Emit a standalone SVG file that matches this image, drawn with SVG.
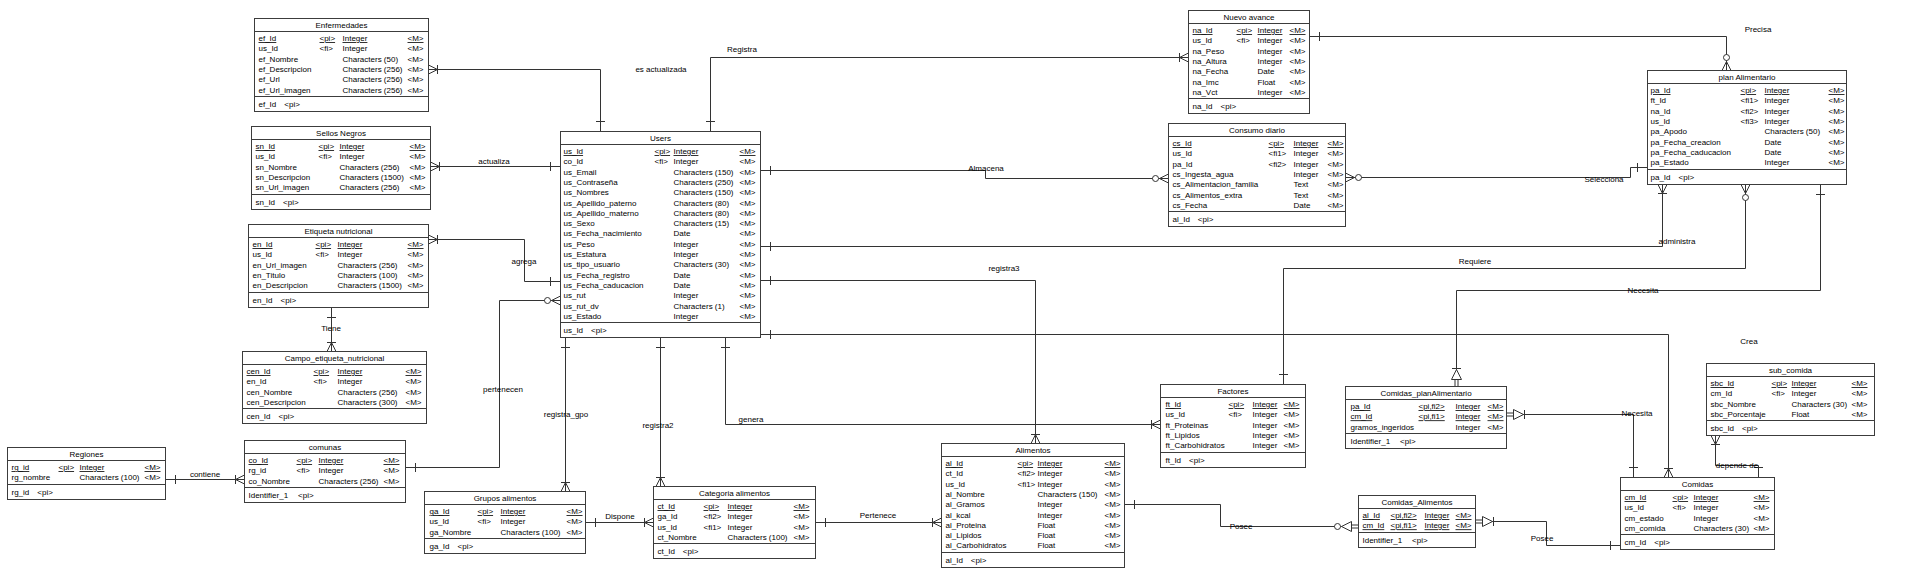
<svg xmlns="http://www.w3.org/2000/svg" width="1908" height="574" viewBox="0 0 1908 574">
<style>
.box rect{fill:#fff;stroke:#3c3c3c;stroke-width:1}
.box line{stroke:#3c3c3c;stroke-width:1}
text{font-family:"Liberation Sans",Arial,sans-serif;font-size:8px;fill:#000}
.ttl{text-anchor:middle}
.u{text-decoration:underline}
#connectors path{fill:none;stroke:#333;stroke-width:1}
.lbl{text-anchor:middle}
</style>
<defs>
<marker id="one" markerUnits="userSpaceOnUse" orient="auto-start-reverse" overflow="visible" markerWidth="1" markerHeight="1">
<path d="M-10,-4.5V4.5" stroke="#333" fill="none"/>
</marker>
<marker id="many" markerUnits="userSpaceOnUse" orient="auto-start-reverse" overflow="visible" markerWidth="1" markerHeight="1">
<path d="M0,-4.5L-9,0L0,4.5M-9,-4.5V4.5" stroke="#333" fill="none"/>
</marker>
<marker id="manyOpt" markerUnits="userSpaceOnUse" orient="auto-start-reverse" overflow="visible" markerWidth="1" markerHeight="1">
<path d="M0,-4.5L-9,0L0,4.5" stroke="#333" fill="none"/>
<circle cx="-13" cy="0" r="3" fill="#fff" stroke="#333"/>
</marker>
<marker id="identOne" markerUnits="userSpaceOnUse" orient="auto-start-reverse" overflow="visible" markerWidth="1" markerHeight="1">
<rect x="-7" y="-1" width="7" height="2" fill="#fff"/>
<path d="M0,-1.5H-7M0,1.5H-7M-18,-4.5V4.5" stroke="#333" fill="none"/>
<path d="M-7,-5L-17,0L-7,5Z" fill="#fff" stroke="#333"/>
</marker>
<marker id="identOpt" markerUnits="userSpaceOnUse" orient="auto-start-reverse" overflow="visible" markerWidth="1" markerHeight="1">
<rect x="-7" y="-1" width="7" height="2" fill="#fff"/>
<path d="M0,-1.5H-7M0,1.5H-7" stroke="#333" fill="none"/>
<path d="M-7,-5L-17,0L-7,5Z" fill="#fff" stroke="#333"/>
<circle cx="-21" cy="0" r="3" fill="#fff" stroke="#333"/>
</marker>
</defs>
<rect width="1908" height="574" fill="#fff"/>

<g id="connectors">
<path d="M600.5 131.5V69.5H428.5" marker-start="url(#one)" marker-end="url(#many)"/>
<path d="M710.5 131.5V57.5H1188.5" marker-start="url(#one)" marker-end="url(#many)"/>
<path d="M560.5 166.5H430.5" marker-start="url(#one)" marker-end="url(#many)"/>
<path d="M560.5 281.5H524.5V239.5H428.5" marker-start="url(#one)" marker-end="url(#many)"/>
<path d="M331.5 307.5V351.5" marker-start="url(#one)" marker-end="url(#many)"/>
<path d="M405.5 467.5H499.5V300.5H560.5" marker-start="url(#one)" marker-end="url(#manyOpt)"/>
<path d="M165.5 479.5H244.5" marker-start="url(#one)" marker-end="url(#many)"/>
<path d="M565.5 337.5V491.5" marker-start="url(#one)" marker-end="url(#many)"/>
<path d="M660.5 337.5V486.5" marker-start="url(#one)" marker-end="url(#many)"/>
<path d="M725.5 337.5V424.5H1160.5" marker-start="url(#one)" marker-end="url(#many)"/>
<path d="M585.5 522.5H653.5" marker-start="url(#one)" marker-end="url(#many)"/>
<path d="M815.5 522.5H941.5" marker-start="url(#one)" marker-end="url(#many)"/>
<path d="M760.5 280.5H1035.5V443.5" marker-start="url(#one)" marker-end="url(#many)"/>
<path d="M760.5 170.5H985.5V178.5H1168.5" marker-start="url(#one)" marker-end="url(#manyOpt)"/>
<path d="M1647.5 167.5H1630.5V177.5H1345.5" marker-start="url(#one)" marker-end="url(#manyOpt)"/>
<path d="M1309.5 36.5H1726.5V70.5" marker-start="url(#one)" marker-end="url(#manyOpt)"/>
<path d="M760.5 246.5H1662.5V184.5" marker-start="url(#one)" marker-end="url(#many)"/>
<path d="M1283.5 384.5V268.5H1745.5V184.5" marker-start="url(#one)" marker-end="url(#manyOpt)"/>
<path d="M1820.5 184.5V290.5H1456.5V386.5" marker-start="url(#one)" marker-end="url(#identOne)"/>
<path d="M1633.5 477.5V414.5H1506.5" marker-start="url(#one)" marker-end="url(#identOne)"/>
<path d="M760.5 334.5H1668.5V477.5" marker-start="url(#one)" marker-end="url(#many)"/>
<path d="M1124.5 504.5H1220.5V526.5H1358.5" marker-start="url(#one)" marker-end="url(#identOpt)"/>
<path d="M1620.5 545.5H1546.5V521.5H1475.5" marker-start="url(#one)" marker-end="url(#identOne)"/>
<path d="M1758.5 477.5V465.5H1715.5V435.5" marker-start="url(#one)" marker-end="url(#many)"/>
<text class="lbl" x="661" y="72">es actualizada</text>
<text class="lbl" x="742" y="52">Registra</text>
<text class="lbl" x="494" y="164">actualiza</text>
<text class="lbl" x="524" y="264">agrega</text>
<text class="lbl" x="331" y="331">Tiene</text>
<text class="lbl" x="503" y="392">pertenecen</text>
<text class="lbl" x="205" y="477">contiene</text>
<text class="lbl" x="566" y="417">registra_gpo</text>
<text class="lbl" x="658" y="428">registra2</text>
<text class="lbl" x="620" y="519">Dispone</text>
<text class="lbl" x="878" y="518">Pertenece</text>
<text class="lbl" x="1004" y="271">registra3</text>
<text class="lbl" x="751" y="422">genera</text>
<text class="lbl" x="986" y="171">Almacena</text>
<text class="lbl" x="1604" y="182">Selecciona</text>
<text class="lbl" x="1758" y="32">Precisa</text>
<text class="lbl" x="1677" y="244">administra</text>
<text class="lbl" x="1475" y="264">Requiere</text>
<text class="lbl" x="1643" y="293">Necesita</text>
<text class="lbl" x="1749" y="344">Crea</text>
<text class="lbl" x="1637" y="416">Necesita</text>
<text class="lbl" x="1241" y="529">Posee</text>
<text class="lbl" x="1542" y="541">Posee</text>
<text class="lbl" x="1737" y="468">depende de</text>
</g>

<g id="Enfermedades" class="box" transform="translate(254.5,18.5)">
<rect width="174" height="93"/><line x1="0" y1="13" x2="174" y2="13"/><line x1="0" y1="78" x2="174" y2="78"/>
<text class="ttl" x="87" y="9.5">Enfermedades</text>
<text class="u" y="22.5"><tspan x="4">ef_Id</tspan><tspan x="65">&lt;pi&gt;</tspan><tspan x="88">Integer</tspan><tspan x="153">&lt;M&gt;</tspan></text>
<text y="32.8"><tspan x="4">us_Id</tspan><tspan x="65">&lt;fi&gt;</tspan><tspan x="88">Integer</tspan><tspan x="153">&lt;M&gt;</tspan></text>
<text y="43.1"><tspan x="4">ef_Nombre</tspan><tspan x="88">Characters (50)</tspan><tspan x="153">&lt;M&gt;</tspan></text>
<text y="53.4"><tspan x="4">ef_Descripcion</tspan><tspan x="88">Characters (256)</tspan><tspan x="153">&lt;M&gt;</tspan></text>
<text y="63.7"><tspan x="4">ef_Url</tspan><tspan x="88">Characters (256)</tspan><tspan x="153">&lt;M&gt;</tspan></text>
<text y="74"><tspan x="4">ef_Url_imagen</tspan><tspan x="88">Characters (256)</tspan><tspan x="153">&lt;M&gt;</tspan></text>
<text x="4" y="88.5">ef_Id<tspan dx="8">&lt;pi&gt;</tspan></text>
</g>

<g id="SellosNegros" class="box" transform="translate(251.5,126.5)">
<rect width="179" height="83"/><line x1="0" y1="13" x2="179" y2="13"/><line x1="0" y1="68" x2="179" y2="68"/>
<text class="ttl" x="89.5" y="9.5">Sellos Negros</text>
<text class="u" y="22.5"><tspan x="4">sn_Id</tspan><tspan x="67">&lt;pi&gt;</tspan><tspan x="88">Integer</tspan><tspan x="158">&lt;M&gt;</tspan></text>
<text y="32.8"><tspan x="4">us_Id</tspan><tspan x="67">&lt;fi&gt;</tspan><tspan x="88">Integer</tspan><tspan x="158">&lt;M&gt;</tspan></text>
<text y="43.1"><tspan x="4">sn_Nombre</tspan><tspan x="88">Characters (256)</tspan><tspan x="158">&lt;M&gt;</tspan></text>
<text y="53.4"><tspan x="4">sn_Descripcion</tspan><tspan x="88">Characters (1500)</tspan><tspan x="158">&lt;M&gt;</tspan></text>
<text y="63.7"><tspan x="4">sn_Url_imagen</tspan><tspan x="88">Characters (256)</tspan><tspan x="158">&lt;M&gt;</tspan></text>
<text x="4" y="78.5">sn_Id<tspan dx="8">&lt;pi&gt;</tspan></text>
</g>

<g id="EtiquetaNutricional" class="box" transform="translate(248.5,224.5)">
<rect width="180" height="83"/><line x1="0" y1="13" x2="180" y2="13"/><line x1="0" y1="68" x2="180" y2="68"/>
<text class="ttl" x="90" y="9.5">Etiqueta nutricional</text>
<text class="u" y="22.5"><tspan x="4">en_Id</tspan><tspan x="67">&lt;pi&gt;</tspan><tspan x="89">Integer</tspan><tspan x="159">&lt;M&gt;</tspan></text>
<text y="32.8"><tspan x="4">us_Id</tspan><tspan x="67">&lt;fi&gt;</tspan><tspan x="89">Integer</tspan><tspan x="159">&lt;M&gt;</tspan></text>
<text y="43.1"><tspan x="4">en_Url_imagen</tspan><tspan x="89">Characters (256)</tspan><tspan x="159">&lt;M&gt;</tspan></text>
<text y="53.4"><tspan x="4">en_Titulo</tspan><tspan x="89">Characters (100)</tspan><tspan x="159">&lt;M&gt;</tspan></text>
<text y="63.7"><tspan x="4">en_Descripcion</tspan><tspan x="89">Characters (1500)</tspan><tspan x="159">&lt;M&gt;</tspan></text>
<text x="4" y="78.5">en_Id<tspan dx="8">&lt;pi&gt;</tspan></text>
</g>

<g id="CampoEtiquetaNutricional" class="box" transform="translate(242.5,351.5)">
<rect width="184" height="72"/><line x1="0" y1="13" x2="184" y2="13"/><line x1="0" y1="57" x2="184" y2="57"/>
<text class="ttl" x="92" y="9.5">Campo_etiqueta_nutricional</text>
<text class="u" y="22.5"><tspan x="4">cen_Id</tspan><tspan x="71">&lt;pi&gt;</tspan><tspan x="95">Integer</tspan><tspan x="163">&lt;M&gt;</tspan></text>
<text y="32.8"><tspan x="4">en_Id</tspan><tspan x="71">&lt;fi&gt;</tspan><tspan x="95">Integer</tspan><tspan x="163">&lt;M&gt;</tspan></text>
<text y="43.1"><tspan x="4">cen_Nombre</tspan><tspan x="95">Characters (256)</tspan><tspan x="163">&lt;M&gt;</tspan></text>
<text y="53.4"><tspan x="4">cen_Descripcion</tspan><tspan x="95">Characters (300)</tspan><tspan x="163">&lt;M&gt;</tspan></text>
<text x="4" y="67.5">cen_Id<tspan dx="8">&lt;pi&gt;</tspan></text>
</g>

<g id="Users" class="box" transform="translate(560.5,131.5)">
<rect width="200" height="206"/><line x1="0" y1="13" x2="200" y2="13"/><line x1="0" y1="191" x2="200" y2="191"/>
<text class="ttl" x="100" y="9.5">Users</text>
<text class="u" y="22.5"><tspan x="3">us_Id</tspan><tspan x="94">&lt;pi&gt;</tspan><tspan x="113">Integer</tspan><tspan x="179">&lt;M&gt;</tspan></text>
<text y="32.8"><tspan x="3">co_Id</tspan><tspan x="94">&lt;fi&gt;</tspan><tspan x="113">Integer</tspan><tspan x="179">&lt;M&gt;</tspan></text>
<text y="43.1"><tspan x="3">us_Email</tspan><tspan x="113">Characters (150)</tspan><tspan x="179">&lt;M&gt;</tspan></text>
<text y="53.4"><tspan x="3">us_Contraseña</tspan><tspan x="113">Characters (250)</tspan><tspan x="179">&lt;M&gt;</tspan></text>
<text y="63.7"><tspan x="3">us_Nombres</tspan><tspan x="113">Characters (150)</tspan><tspan x="179">&lt;M&gt;</tspan></text>
<text y="74"><tspan x="3">us_Apellido_paterno</tspan><tspan x="113">Characters (80)</tspan><tspan x="179">&lt;M&gt;</tspan></text>
<text y="84.3"><tspan x="3">us_Apellido_materno</tspan><tspan x="113">Characters (80)</tspan><tspan x="179">&lt;M&gt;</tspan></text>
<text y="94.6"><tspan x="3">us_Sexo</tspan><tspan x="113">Characters (15)</tspan><tspan x="179">&lt;M&gt;</tspan></text>
<text y="104.9"><tspan x="3">us_Fecha_nacimiento</tspan><tspan x="113">Date</tspan><tspan x="179">&lt;M&gt;</tspan></text>
<text y="115.2"><tspan x="3">us_Peso</tspan><tspan x="113">Integer</tspan><tspan x="179">&lt;M&gt;</tspan></text>
<text y="125.5"><tspan x="3">us_Estatura</tspan><tspan x="113">Integer</tspan><tspan x="179">&lt;M&gt;</tspan></text>
<text y="135.8"><tspan x="3">us_tipo_usuario</tspan><tspan x="113">Characters (30)</tspan><tspan x="179">&lt;M&gt;</tspan></text>
<text y="146.1"><tspan x="3">us_Fecha_registro</tspan><tspan x="113">Date</tspan><tspan x="179">&lt;M&gt;</tspan></text>
<text y="156.4"><tspan x="3">us_Fecha_caducacion</tspan><tspan x="113">Date</tspan><tspan x="179">&lt;M&gt;</tspan></text>
<text y="166.7"><tspan x="3">us_rut</tspan><tspan x="113">Integer</tspan><tspan x="179">&lt;M&gt;</tspan></text>
<text y="177"><tspan x="3">us_rut_dv</tspan><tspan x="113">Characters (1)</tspan><tspan x="179">&lt;M&gt;</tspan></text>
<text y="187.3"><tspan x="3">us_Estado</tspan><tspan x="113">Integer</tspan><tspan x="179">&lt;M&gt;</tspan></text>
<text x="3" y="201.5">us_Id<tspan dx="8">&lt;pi&gt;</tspan></text>
</g>

<g id="NuevoAvance" class="box" transform="translate(1188.5,10.5)">
<rect width="121" height="103"/><line x1="0" y1="13" x2="121" y2="13"/><line x1="0" y1="88" x2="121" y2="88"/>
<text class="ttl" x="60.5" y="9.5">Nuevo avance</text>
<text class="u" y="22.5"><tspan x="4">na_Id</tspan><tspan x="48">&lt;pi&gt;</tspan><tspan x="69">Integer</tspan><tspan x="101">&lt;M&gt;</tspan></text>
<text y="32.8"><tspan x="4">us_Id</tspan><tspan x="48">&lt;fi&gt;</tspan><tspan x="69">Integer</tspan><tspan x="101">&lt;M&gt;</tspan></text>
<text y="43.1"><tspan x="4">na_Peso</tspan><tspan x="69">Integer</tspan><tspan x="101">&lt;M&gt;</tspan></text>
<text y="53.4"><tspan x="4">na_Altura</tspan><tspan x="69">Integer</tspan><tspan x="101">&lt;M&gt;</tspan></text>
<text y="63.7"><tspan x="4">na_Fecha</tspan><tspan x="69">Date</tspan><tspan x="101">&lt;M&gt;</tspan></text>
<text y="74"><tspan x="4">na_Imc</tspan><tspan x="69">Float</tspan><tspan x="101">&lt;M&gt;</tspan></text>
<text y="84.3"><tspan x="4">na_Vct</tspan><tspan x="69">Integer</tspan><tspan x="101">&lt;M&gt;</tspan></text>
<text x="4" y="98.5">na_Id<tspan dx="8">&lt;pi&gt;</tspan></text>
</g>

<g id="ConsumoDiario" class="box" transform="translate(1168.5,123.5)">
<rect width="177" height="103"/><line x1="0" y1="13" x2="177" y2="13"/><line x1="0" y1="88" x2="177" y2="88"/>
<text class="ttl" x="88.5" y="9.5">Consumo diario</text>
<text class="u" y="22.5"><tspan x="4">cs_Id</tspan><tspan x="100">&lt;pi&gt;</tspan><tspan x="125">Integer</tspan><tspan x="159">&lt;M&gt;</tspan></text>
<text y="32.8"><tspan x="4">us_Id</tspan><tspan x="100">&lt;fi1&gt;</tspan><tspan x="125">Integer</tspan><tspan x="159">&lt;M&gt;</tspan></text>
<text y="43.1"><tspan x="4">pa_Id</tspan><tspan x="100">&lt;fi2&gt;</tspan><tspan x="125">Integer</tspan><tspan x="159">&lt;M&gt;</tspan></text>
<text y="53.4"><tspan x="4">cs_Ingesta_agua</tspan><tspan x="125">Integer</tspan><tspan x="159">&lt;M&gt;</tspan></text>
<text y="63.7"><tspan x="4">cs_Alimentacion_familia</tspan><tspan x="125">Text</tspan><tspan x="159">&lt;M&gt;</tspan></text>
<text y="74"><tspan x="4">cs_Alimentos_extra</tspan><tspan x="125">Text</tspan><tspan x="159">&lt;M&gt;</tspan></text>
<text y="84.3"><tspan x="4">cs_Fecha</tspan><tspan x="125">Date</tspan><tspan x="159">&lt;M&gt;</tspan></text>
<text x="4" y="98.5">al_Id<tspan dx="8">&lt;pi&gt;</tspan></text>
</g>

<g id="PlanAlimentario" class="box" transform="translate(1647.5,70.5)">
<rect width="199" height="114"/><line x1="0" y1="13" x2="199" y2="13"/><line x1="0" y1="99" x2="199" y2="99"/>
<text class="ttl" x="99.5" y="9.5">plan Alimentario</text>
<text class="u" y="22.5"><tspan x="3">pa_Id</tspan><tspan x="93">&lt;pi&gt;</tspan><tspan x="117">Integer</tspan><tspan x="181">&lt;M&gt;</tspan></text>
<text y="32.8"><tspan x="3">ft_Id</tspan><tspan x="93">&lt;fi1&gt;</tspan><tspan x="117">Integer</tspan><tspan x="181">&lt;M&gt;</tspan></text>
<text y="43.1"><tspan x="3">na_Id</tspan><tspan x="93">&lt;fi2&gt;</tspan><tspan x="117">Integer</tspan><tspan x="181">&lt;M&gt;</tspan></text>
<text y="53.4"><tspan x="3">us_Id</tspan><tspan x="93">&lt;fi3&gt;</tspan><tspan x="117">Integer</tspan><tspan x="181">&lt;M&gt;</tspan></text>
<text y="63.7"><tspan x="3">pa_Apodo</tspan><tspan x="117">Characters (50)</tspan><tspan x="181">&lt;M&gt;</tspan></text>
<text y="74"><tspan x="3">pa_Fecha_creacion</tspan><tspan x="117">Date</tspan><tspan x="181">&lt;M&gt;</tspan></text>
<text y="84.3"><tspan x="3">pa_Fecha_caducacion</tspan><tspan x="117">Date</tspan><tspan x="181">&lt;M&gt;</tspan></text>
<text y="94.6"><tspan x="3">pa_Estado</tspan><tspan x="117">Integer</tspan><tspan x="181">&lt;M&gt;</tspan></text>
<text x="3" y="109.5">pa_Id<tspan dx="8">&lt;pi&gt;</tspan></text>
</g>

<g id="Regiones" class="box" transform="translate(7.5,447.5)">
<rect width="158" height="52"/><line x1="0" y1="13" x2="158" y2="13"/><line x1="0" y1="37" x2="158" y2="37"/>
<text class="ttl" x="79" y="9.5">Regiones</text>
<text class="u" y="22.5"><tspan x="4">rg_id</tspan><tspan x="51">&lt;pi&gt;</tspan><tspan x="72">Integer</tspan><tspan x="137">&lt;M&gt;</tspan></text>
<text y="32.8"><tspan x="4">rg_nombre</tspan><tspan x="72">Characters (100)</tspan><tspan x="137">&lt;M&gt;</tspan></text>
<text x="4" y="47.5">rg_id<tspan dx="8">&lt;pi&gt;</tspan></text>
</g>

<g id="comunas" class="box" transform="translate(244.5,440.5)">
<rect width="161" height="62"/><line x1="0" y1="13" x2="161" y2="13"/><line x1="0" y1="47" x2="161" y2="47"/>
<text class="ttl" x="80.5" y="9.5">comunas</text>
<text class="u" y="22.5"><tspan x="4">co_Id</tspan><tspan x="52">&lt;pi&gt;</tspan><tspan x="74">Integer</tspan><tspan x="139">&lt;M&gt;</tspan></text>
<text y="32.8"><tspan x="4">rg_id</tspan><tspan x="52">&lt;fi&gt;</tspan><tspan x="74">Integer</tspan><tspan x="139">&lt;M&gt;</tspan></text>
<text y="43.1"><tspan x="4">co_Nombre</tspan><tspan x="74">Characters (256)</tspan><tspan x="139">&lt;M&gt;</tspan></text>
<text x="4" y="57.5">Identifier_1<tspan dx="10">&lt;pi&gt;</tspan></text>
</g>

<g id="GruposAlimentos" class="box" transform="translate(424.5,491.5)">
<rect width="161" height="62"/><line x1="0" y1="13" x2="161" y2="13"/><line x1="0" y1="47" x2="161" y2="47"/>
<text class="ttl" x="80.5" y="9.5">Grupos alimentos</text>
<text class="u" y="22.5"><tspan x="5">ga_Id</tspan><tspan x="53">&lt;pi&gt;</tspan><tspan x="76">Integer</tspan><tspan x="142">&lt;M&gt;</tspan></text>
<text y="32.8"><tspan x="5">us_Id</tspan><tspan x="53">&lt;fi&gt;</tspan><tspan x="76">Integer</tspan><tspan x="142">&lt;M&gt;</tspan></text>
<text y="43.1"><tspan x="5">ga_Nombre</tspan><tspan x="76">Characters (100)</tspan><tspan x="142">&lt;M&gt;</tspan></text>
<text x="5" y="57.5">ga_Id<tspan dx="8">&lt;pi&gt;</tspan></text>
</g>

<g id="CategoriaAlimentos" class="box" transform="translate(653.5,486.5)">
<rect width="162" height="72"/><line x1="0" y1="13" x2="162" y2="13"/><line x1="0" y1="57" x2="162" y2="57"/>
<text class="ttl" x="81" y="9.5">Categoria alimentos</text>
<text class="u" y="22.5"><tspan x="4">ct_Id</tspan><tspan x="50">&lt;pi&gt;</tspan><tspan x="74">Integer</tspan><tspan x="140">&lt;M&gt;</tspan></text>
<text y="32.8"><tspan x="4">ga_Id</tspan><tspan x="50">&lt;fi2&gt;</tspan><tspan x="74">Integer</tspan><tspan x="140">&lt;M&gt;</tspan></text>
<text y="43.1"><tspan x="4">us_Id</tspan><tspan x="50">&lt;fi1&gt;</tspan><tspan x="74">Integer</tspan><tspan x="140">&lt;M&gt;</tspan></text>
<text y="53.4"><tspan x="4">ct_Nombre</tspan><tspan x="74">Characters (100)</tspan><tspan x="140">&lt;M&gt;</tspan></text>
<text x="4" y="67.5">ct_Id<tspan dx="8">&lt;pi&gt;</tspan></text>
</g>

<g id="Alimentos" class="box" transform="translate(941.5,443.5)">
<rect width="183" height="124"/><line x1="0" y1="13" x2="183" y2="13"/><line x1="0" y1="109" x2="183" y2="109"/>
<text class="ttl" x="91.5" y="9.5">Alimentos</text>
<text class="u" y="22.5"><tspan x="4">al_Id</tspan><tspan x="76">&lt;pi&gt;</tspan><tspan x="96">Integer</tspan><tspan x="163">&lt;M&gt;</tspan></text>
<text y="32.8"><tspan x="4">ct_Id</tspan><tspan x="76">&lt;fi2&gt;</tspan><tspan x="96">Integer</tspan><tspan x="163">&lt;M&gt;</tspan></text>
<text y="43.1"><tspan x="4">us_Id</tspan><tspan x="76">&lt;fi1&gt;</tspan><tspan x="96">Integer</tspan><tspan x="163">&lt;M&gt;</tspan></text>
<text y="53.4"><tspan x="4">al_Nombre</tspan><tspan x="96">Characters (150)</tspan><tspan x="163">&lt;M&gt;</tspan></text>
<text y="63.7"><tspan x="4">al_Gramos</tspan><tspan x="96">Integer</tspan><tspan x="163">&lt;M&gt;</tspan></text>
<text y="74"><tspan x="4">al_kcal</tspan><tspan x="96">Integer</tspan><tspan x="163">&lt;M&gt;</tspan></text>
<text y="84.3"><tspan x="4">al_Proteina</tspan><tspan x="96">Float</tspan><tspan x="163">&lt;M&gt;</tspan></text>
<text y="94.6"><tspan x="4">al_Lipidos</tspan><tspan x="96">Float</tspan><tspan x="163">&lt;M&gt;</tspan></text>
<text y="104.9"><tspan x="4">al_Carbohidratos</tspan><tspan x="96">Float</tspan><tspan x="163">&lt;M&gt;</tspan></text>
<text x="4" y="119.5">al_Id<tspan dx="8">&lt;pi&gt;</tspan></text>
</g>

<g id="Factores" class="box" transform="translate(1160.5,384.5)">
<rect width="145" height="83"/><line x1="0" y1="13" x2="145" y2="13"/><line x1="0" y1="68" x2="145" y2="68"/>
<text class="ttl" x="72.5" y="9.5">Factores</text>
<text class="u" y="22.5"><tspan x="5">ft_Id</tspan><tspan x="68">&lt;pi&gt;</tspan><tspan x="92">Integer</tspan><tspan x="123">&lt;M&gt;</tspan></text>
<text y="32.8"><tspan x="5">us_Id</tspan><tspan x="68">&lt;fi&gt;</tspan><tspan x="92">Integer</tspan><tspan x="123">&lt;M&gt;</tspan></text>
<text y="43.1"><tspan x="5">ft_Proteinas</tspan><tspan x="92">Integer</tspan><tspan x="123">&lt;M&gt;</tspan></text>
<text y="53.4"><tspan x="5">ft_Lipidos</tspan><tspan x="92">Integer</tspan><tspan x="123">&lt;M&gt;</tspan></text>
<text y="63.7"><tspan x="5">ft_Carbohidratos</tspan><tspan x="92">Integer</tspan><tspan x="123">&lt;M&gt;</tspan></text>
<text x="5" y="78.5">ft_Id<tspan dx="8">&lt;pi&gt;</tspan></text>
</g>

<g id="ComidasPlanAlimentario" class="box" transform="translate(1345.5,386.5)">
<rect width="161" height="62"/><line x1="0" y1="13" x2="161" y2="13"/><line x1="0" y1="47" x2="161" y2="47"/>
<text class="ttl" x="80.5" y="9.5">Comidas_planAlimentario</text>
<text class="u" y="22.5"><tspan x="5">pa_Id</tspan><tspan x="73">&lt;pi,fi2&gt;</tspan><tspan x="110">Integer</tspan><tspan x="142">&lt;M&gt;</tspan></text>
<text class="u" y="32.8"><tspan x="5">cm_Id</tspan><tspan x="73">&lt;pi,fi1&gt;</tspan><tspan x="110">Integer</tspan><tspan x="142">&lt;M&gt;</tspan></text>
<text y="43.1"><tspan x="5">gramos_ingeridos</tspan><tspan x="110">Integer</tspan><tspan x="142">&lt;M&gt;</tspan></text>
<text x="5" y="57.5">Identifier_1<tspan dx="10">&lt;pi&gt;</tspan></text>
</g>

<g id="ComidasAlimentos" class="box" transform="translate(1358.5,495.5)">
<rect width="117" height="52"/><line x1="0" y1="13" x2="117" y2="13"/><line x1="0" y1="37" x2="117" y2="37"/>
<text class="ttl" x="58.5" y="9.5">Comidas_Alimentos</text>
<text class="u" y="22.5"><tspan x="4">al_Id</tspan><tspan x="32">&lt;pi,fi2&gt;</tspan><tspan x="66">Integer</tspan><tspan x="97">&lt;M&gt;</tspan></text>
<text class="u" y="32.8"><tspan x="4">cm_Id</tspan><tspan x="32">&lt;pi,fi1&gt;</tspan><tspan x="66">Integer</tspan><tspan x="97">&lt;M&gt;</tspan></text>
<text x="4" y="47.5">Identifier_1<tspan dx="10">&lt;pi&gt;</tspan></text>
</g>

<g id="Comidas" class="box" transform="translate(1620.5,477.5)">
<rect width="154" height="72"/><line x1="0" y1="13" x2="154" y2="13"/><line x1="0" y1="57" x2="154" y2="57"/>
<text class="ttl" x="77" y="9.5">Comidas</text>
<text class="u" y="22.5"><tspan x="4">cm_Id</tspan><tspan x="52">&lt;pi&gt;</tspan><tspan x="73">Integer</tspan><tspan x="133">&lt;M&gt;</tspan></text>
<text y="32.8"><tspan x="4">us_Id</tspan><tspan x="52">&lt;fi&gt;</tspan><tspan x="73">Integer</tspan><tspan x="133">&lt;M&gt;</tspan></text>
<text y="43.1"><tspan x="4">cm_estado</tspan><tspan x="73">Integer</tspan><tspan x="133">&lt;M&gt;</tspan></text>
<text y="53.4"><tspan x="4">cm_comida</tspan><tspan x="73">Characters (30)</tspan><tspan x="133">&lt;M&gt;</tspan></text>
<text x="4" y="67.5">cm_Id<tspan dx="8">&lt;pi&gt;</tspan></text>
</g>

<g id="SubComida" class="box" transform="translate(1706.5,363.5)">
<rect width="168" height="72"/><line x1="0" y1="13" x2="168" y2="13"/><line x1="0" y1="57" x2="168" y2="57"/>
<text class="ttl" x="84" y="9.5">sub_comida</text>
<text class="u" y="22.5"><tspan x="4">sbc_Id</tspan><tspan x="65">&lt;pi&gt;</tspan><tspan x="85">Integer</tspan><tspan x="145">&lt;M&gt;</tspan></text>
<text y="32.8"><tspan x="4">cm_Id</tspan><tspan x="65">&lt;fi&gt;</tspan><tspan x="85">Integer</tspan><tspan x="145">&lt;M&gt;</tspan></text>
<text y="43.1"><tspan x="4">sbc_Nombre</tspan><tspan x="85">Characters (30)</tspan><tspan x="145">&lt;M&gt;</tspan></text>
<text y="53.4"><tspan x="4">sbc_Porcentaje</tspan><tspan x="85">Float</tspan><tspan x="145">&lt;M&gt;</tspan></text>
<text x="4" y="67.5">sbc_Id<tspan dx="8">&lt;pi&gt;</tspan></text>
</g>
</svg>
